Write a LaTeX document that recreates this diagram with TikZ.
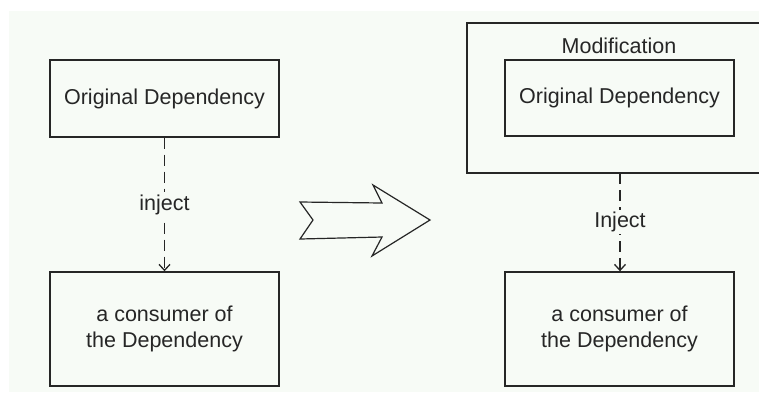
\documentclass[tikz,border=0pt]{standalone}
\usepackage{fontspec}
\setmainfont{Liberation Sans}
\usetikzlibrary{arrows.meta}
\definecolor{paper}{HTML}{F7FBF6}
\definecolor{ink}{HTML}{262626}
\tikzset{
	box/.style={draw=ink, line width=1.4pt, minimum width=229pt, inner sep=0pt, align=center, font=\fontsize{21.5}{26}\selectfont, text=ink},
	inj/.style={draw=ink, line width=1.3pt, dash pattern=on 11pt off 6pt, -{Straight Barb[length=6pt,width=11pt]}},
	lbl/.style={fill=paper, inner sep=2pt, font=\fontsize{21.5}{24}\selectfont, text=ink}
}
\begin{document}
\begin{tikzpicture}[x=1pt, y=-1pt]
		\useasboundingbox (0,0) rectangle (759,392);
		\fill [paper] (9,11) rectangle (759,392);
		
		% left side
		\node [box, minimum height=77pt] (orig) at (164.5, 98.5) {Original Dependency};
		\node [box, minimum height=114pt] (cons) at (164.5, 329) {a consumer of\\the Dependency};
		\draw [inj] (orig) -- node[lbl] {inject} (cons);
		
		% block arrow
		\coordinate (B1) at (300, 202);
		\coordinate (B2) at (313, 220);
		\coordinate (B3) at (300, 239);
		\coordinate (B4) at (382, 237);
		\coordinate (B5) at (372, 256);
		\coordinate (B6) at (430, 220);
		\coordinate (B7) at (373, 185);
		\coordinate (B8) at (382, 203);
		\draw [ink, line width=1.2pt, line join=miter] (B1) -- (B2) -- (B3) -- (B4) -- (B5) -- (B6) -- (B7) -- (B8) -- cycle;
		
		% right side
		\draw [ink, line width=1.4pt] (467, 23) rectangle (800, 173);
		\coordinate (modbot) at (620, 173);
		\node [text=ink, font=\fontsize{21.5}{24}\selectfont] (modname) at (619, 46) {Modification};
		\node [box, minimum height=76pt] (orig2) at (619.5, 98) {Original Dependency};
		\node [box, minimum height=114pt] (cons2) at (619.5, 329) {a consumer of\\the Dependency};
		\draw [inj] (modbot) -- node[lbl] {Inject} (modbot |- cons2.north);
\end{tikzpicture}
\end{document}
